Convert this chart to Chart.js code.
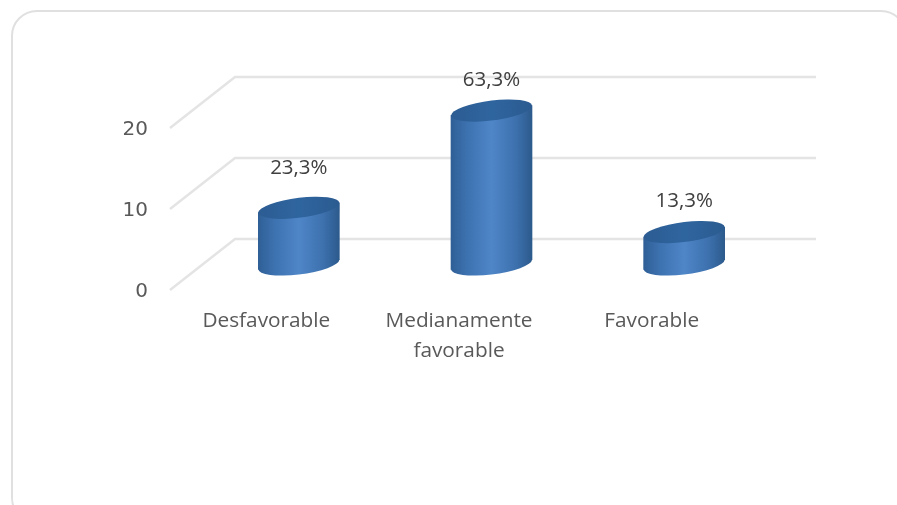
<!DOCTYPE html>
<html>
<head>
<meta charset="utf-8">
<style>
  html, body { margin: 0; background: #fff; overflow: hidden; width: 897px; height: 505px; }
  #marco { position: absolute; left: 11px; top: 10px; width: 892px; height: 510px; border: 2px solid #e0e0e0; border-radius: 26px; }
  canvas { position: absolute; left: 0; top: 0; }
</style>
</head>
<body>
<div id="marco"></div>
<canvas id="chartniveles" width="897" height="505"></canvas>
<script src="https://cdn.jsdelivr.net/npm/chart.js@4"></script>
<script>
const categorias = ['Desfavorable', ['Medianamente', 'favorable'], 'Favorable']
const valores = [7, 19, 4]
const etiquetas = ['23,3%', '63,3%', '13,3%']
const marcasY = [0, 10, 20]

// fondo falso 3D: desplazamiento de la pared trasera
const fondoX = 65
const fondoY = -51
const ajusteY = 2
const elevacion = [40, 30, 31]
const anchoBarra = 81
const inclinacion = 0.12
const radioElipse = 10

class CilindroElement extends Chart.BarElement {
    draw(ctx) {
        const { x, y, base } = this.getProps(['x', 'y', 'base'])
        const r = anchoBarra / 2
        ctx.save()
        // la columna queda a media profundidad del piso
        ctx.translate(x + fondoX / 2, fondoY / 2 - ajusteY)
        ctx.transform(1, -inclinacion, 0, 1, 0, 0)
        ctx.translate(-x, 0)

        ctx.fillStyle = this.options.backgroundColor
        ctx.beginPath()
        ctx.ellipse(x, base, r, radioElipse, 0, 0, Math.PI * 2)
        ctx.fill()

        super.draw(ctx)

        const tapa = ctx.createLinearGradient(x - r, 0, x + r, 0)
        tapa.addColorStop(0, '#2c5c92')
        tapa.addColorStop(0.5, '#2f659f')
        tapa.addColorStop(1, '#2b5b90')
        ctx.fillStyle = tapa
        ctx.beginPath()
        ctx.ellipse(x, y, r, radioElipse, 0, 0, Math.PI * 2)
        ctx.fill()
        ctx.restore()
    }
}
CilindroElement.id = 'cilindro'
CilindroElement.defaults = Chart.BarElement.defaults
CilindroElement.defaultRoutes = Chart.BarElement.defaultRoutes

class CilindroController extends Chart.BarController {}
CilindroController.id = 'cilindros'
CilindroController.defaults = { ...Chart.BarController.defaults, dataElementType: 'cilindro' }
CilindroController.overrides = Chart.BarController.overrides

Chart.register(CilindroElement, CilindroController)

const degradado = (c) => {
    const escala = c.chart.scales.x
    const centro = escala && c.dataIndex !== undefined ? escala.getPixelForValue(c.dataIndex) : NaN
    if (!isFinite(centro)) return '#3f75b5'
    const g = c.chart.ctx.createLinearGradient(centro - anchoBarra / 2, 0, centro + anchoBarra / 2, 0)
    g.addColorStop(0, '#2f5f96')
    g.addColorStop(0.2, '#3d72b0')
    g.addColorStop(0.5, '#4f86c8')
    g.addColorStop(0.8, '#3d71ae')
    g.addColorStop(1, '#2c5a8c')
    return g
}

const paredes = {
    id: 'paredes',
    beforeDatasetsDraw(chart) {
        const { ctx, chartArea, scales } = chart
        ctx.save()
        ctx.strokeStyle = '#e4e4e4'
        ctx.lineWidth = 2.5
        marcasY.forEach(m => {
            const y = scales.y.getPixelForValue(m) - ajusteY
            ctx.beginPath()
            ctx.moveTo(chartArea.left, y)
            ctx.lineTo(chartArea.left + fondoX, y + fondoY)
            ctx.lineTo(chartArea.right + fondoX + 3, y + fondoY)
            ctx.stroke()
        })
        ctx.restore()
    }
}

const rotulos = {
    id: 'rotulos',
    afterDatasetsDraw(chart) {
        const { ctx } = chart
        ctx.save()
        ctx.font = '20.5px "Open Sans"'
        ctx.fillStyle = '#404040'
        ctx.textAlign = 'center'
        ctx.textBaseline = 'middle'
        chart.getDatasetMeta(0).data.forEach((barra, i) => {
            ctx.fillText(etiquetas[i], barra.x + fondoX / 2, barra.y + fondoY / 2 - ajusteY - elevacion[i])
        })
        ctx.restore()
    }
}

const canvas = document.getElementById('chartniveles')
const chartNiveles = new Chart(canvas.getContext('2d'), {
    type: 'cilindros',
    data: {
        labels: categorias,
        datasets: [{
            data: valores,
            backgroundColor: degradado,
            clip: false,
            categoryPercentage: 1,
            barThickness: anchoBarra
        }]
    },
    options: {
        responsive: false,
        animation: false,
        layout: { padding: { top: 130, right: 149 } },
        plugins: { legend: { display: false }, tooltip: { enabled: false } },
        scales: {
            x: {
                grid: { display: false },
                border: { display: false },
                ticks: { color: '#595959', font: { family: 'Open Sans', size: 20.8, lineHeight: 1.44 }, padding: 6, maxRotation: 0, autoSkip: false },
                afterFit: (s) => { s.height = 213 }
            },
            y: {
                min: 0,
                max: 20,
                grid: { display: false, drawTicks: false },
                border: { display: false },
                ticks: { color: '#595959', font: { family: 'DejaVu Sans', size: 20 }, padding: 22, stepSize: 10, callback: (v) => marcasY.includes(v) ? v : '' },
                afterFit: (s) => { s.width = 170 }
            }
        }
    },
    plugins: [paredes, rotulos]
})
</script>
</body>
</html>
